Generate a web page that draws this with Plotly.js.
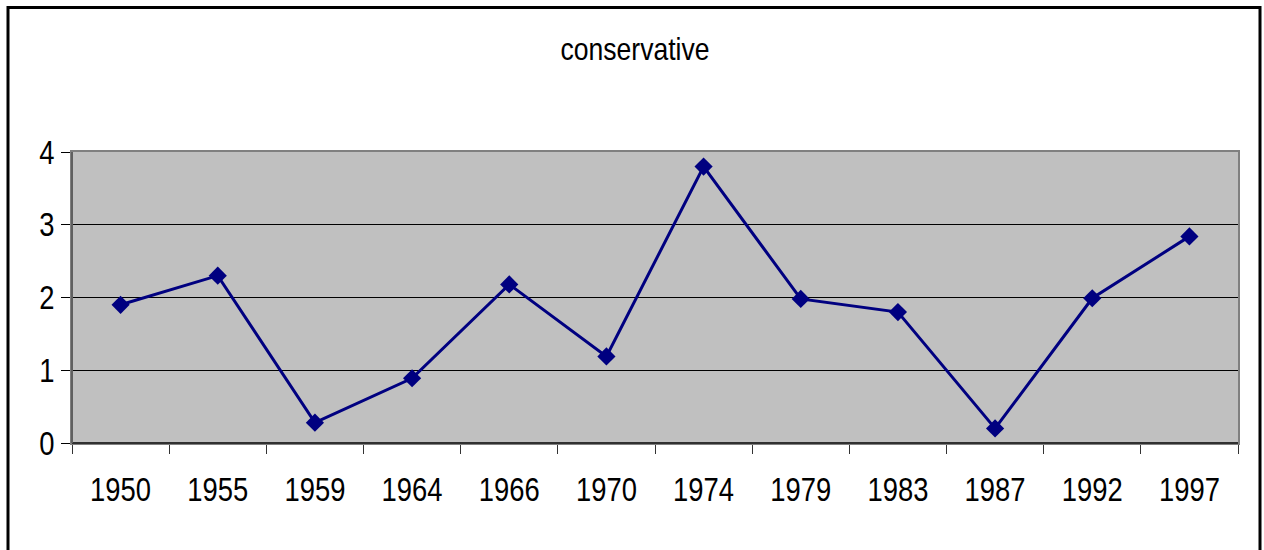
<!DOCTYPE html>
<html>
<head>
<meta charset="utf-8">
<script src="https://cdn.plot.ly/plotly-3.0.1.min.js"></script>
<style>
html, body { margin: 0; padding: 0; background: #ffffff; }
#chart { width: 1264px; height: 550px; }
</style>
</head>
<body>
<div id="chart"></div>
<script>
const chartTitle = "conservative";
const years = ["1950", "1955", "1959", "1964", "1966", "1970", "1974", "1979", "1983", "1987", "1992", "1997"];
const conservative = [1.90, 2.30, 0.28, 0.89, 2.18, 1.19, 3.80, 1.98, 1.80, 0.20, 1.99, 2.84];
const yTicks = [0, 1, 2, 3, 4];

const fontFam = '"Liberation Sans", Arial, sans-serif';
const narrow = 0.83;

const trace = {
  type: "scatter",
  mode: "lines+markers",
  x: years,
  y: conservative,
  line: { color: "#000080", width: 3 },
  marker: { symbol: "diamond", size: 14, color: "#000080", line: { width: 0 } },
  hoverinfo: "x+y",
  showlegend: false
};

const layout = {
  width: 1264,
  height: 550,
  margin: { l: 72, r: 26, t: 152, b: 107 },
  paper_bgcolor: "#ffffff",
  plot_bgcolor: "#C0C0C0",
  font: { family: fontFam, size: 33, color: "#000000" },
  title: {
    text: chartTitle,
    font: { family: fontFam, size: 32, color: "#000000" },
    x: 0.5024, xref: "container", xanchor: "center",
    y: 0.911, yref: "container", yanchor: "middle"
  },
  xaxis: {
    type: "category",
    categoryorder: "array",
    categoryarray: years,
    range: [-0.5, years.length - 0.5],
    tickson: "boundaries",
    ticks: "outside",
    ticklen: 9,
    tickwidth: 1,
    tickcolor: "#333333",
    showgrid: false,
    showline: true,
    linecolor: "#808080",
    linewidth: 2,
    mirror: true,
    zeroline: false,
    ticklabelstandoff: 16,
    tickfont: { family: fontFam, size: 33, color: "#000000" },
    fixedrange: true
  },
  yaxis: {
    range: [0, 4],
    tickvals: yTicks,
    ticktext: yTicks.map(String),
    ticks: "outside",
    ticklen: 9,
    tickwidth: 1,
    tickcolor: "#000000",
    showgrid: true,
    gridcolor: "#000000",
    gridwidth: 1,
    showline: true,
    linecolor: "#808080",
    linewidth: 2,
    mirror: true,
    zeroline: false,
    tickfont: { family: fontFam, size: 33, color: "#000000" },
    fixedrange: true
  },
  shapes: [
    {
      type: "line", xref: "paper", yref: "paper",
      x0: 0, x1: 1, y0: 0, y1: 0,
      line: { color: "#303030", width: 2 }, layer: "above"
    },
    {
      type: "line", xref: "paper", yref: "paper",
      x0: 0, x1: 0, y0: 0, y1: 1,
      line: { color: "#606060", width: 2 }, layer: "above"
    },
    {
      type: "rect", xref: "paper", yref: "paper",
      x0: (8 - 72) / 1166, x1: (1260 - 72) / 1166,
      y0: -0.6, y1: (443 - 7.5) / 291,
      line: { color: "#000000", width: 3 }, fillcolor: "rgba(0,0,0,0)", layer: "above"
    }
  ]
};

function condenseText(gd) {
  const nodes = gd.querySelectorAll("g.xtick text, g.ytick text, text.gtitle");
  nodes.forEach(function (t) {
    const x = parseFloat(t.getAttribute("x")) || 0;
    const prev = t.getAttribute("transform") || "";
    t.setAttribute("transform",
      prev + " translate(" + x + ",0) scale(" + narrow + ",1) translate(" + (-x) + ",0)");
  });
}

Plotly.newPlot("chart", [trace], layout, { displayModeBar: false, staticPlot: true })
  .then(condenseText);
</script>
</body>
</html>
